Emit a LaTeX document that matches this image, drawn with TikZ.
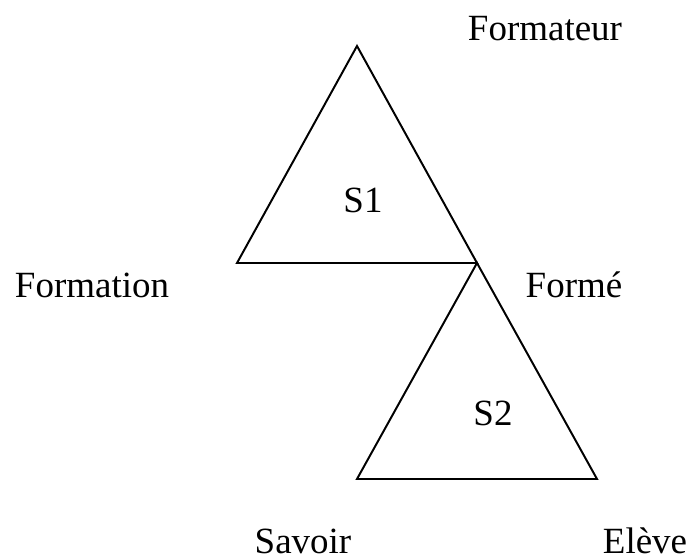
\documentclass[tikz,border=0pt]{standalone}
\usepackage{fontspec}
\setmainfont{Liberation Serif}
\tikzset{lbl/.style={anchor=base,inner sep=0pt,font=\fontsize{26.3}{30}\selectfont},
  tri/.style={line width=1.4pt,line join=miter}}

\begin{document}
\begin{tikzpicture}[x=0.025cm,y=-0.025cm]
            \useasboundingbox (0,0) rectangle (691,559);
            % upper triangle
            \coordinate (top1) at (357,46);
            \coordinate (left1) at (237,263);
            \coordinate (join) at (477,263);
            \draw[tri] (top1)--(left1)--(join)--cycle;
            % lower triangle
            \coordinate (left2) at (357,479);
            \coordinate (right2) at (597,479);
            \draw[tri] (join)--(left2)--(right2)--cycle;

            \node[lbl] (formateur) at (545,40) {Formateur};
            \node[lbl] (s1) at (363,212) {S1};
            \node[lbl] (formation) at (92,297) {Formation};
            \node[lbl] (forme) at (574,297) {Formé};
            \node[lbl] (s2) at (493,425) {S2};
            \node[lbl] (savoir) at (303,553) {Savoir};
            \node[lbl] (eleve) at (645,553) {Elève};
        \end{tikzpicture}
\end{document}
